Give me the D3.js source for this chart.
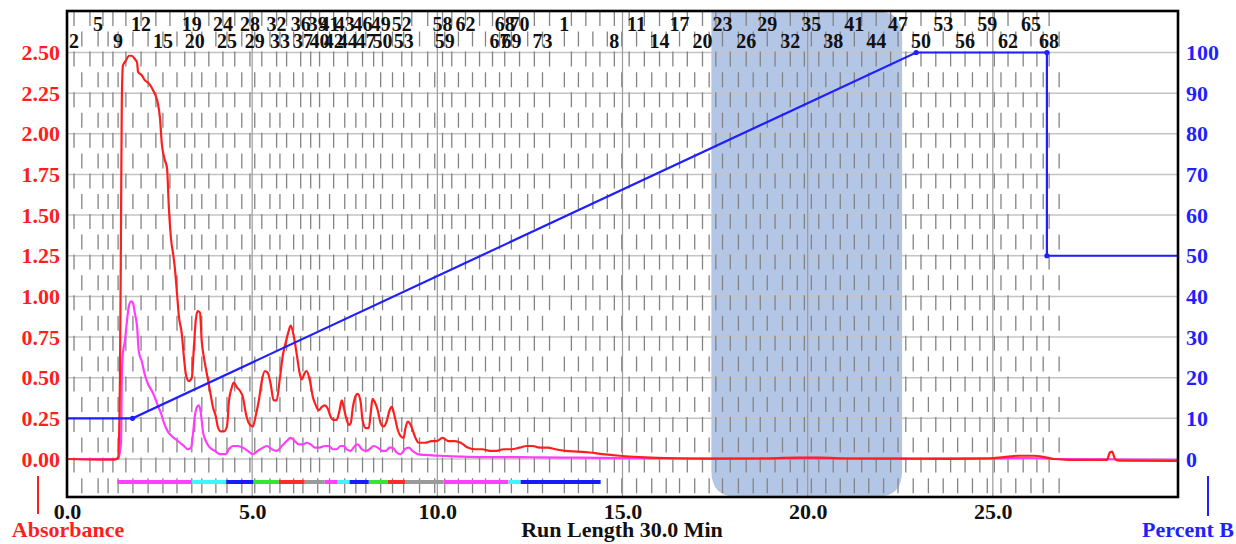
<!DOCTYPE html>
<html><head><meta charset="utf-8">
<script src="https://cdn.jsdelivr.net/npm/d3@7"></script>
<style>
html,body{margin:0;padding:0;background:#fff;}
svg text{font-family:"Liberation Serif","Times New Roman",serif;font-weight:bold;}
</style></head><body>
<svg id="c" width="1236" height="544"></svg>
<script>
// ---------- data ----------
const absTime = [0,0.89,1.29,1.38,1.43,1.46,1.48,1.51,1.59,1.67,
 1.75,1.83,1.89,1.92,2.02,2.10,2.21,2.32,2.40,2.45,
 2.51,2.56,2.64,2.70,2.75,2.81,2.86,2.91,2.97,3.02,
 3.10,3.16,3.21,3.29,3.37,3.43,3.48,3.53,3.59,3.64,
 3.70,3.78,3.86,3.94,4.02,4.07,4.15,4.24,4.32,4.37,
 4.45,4.50,4.59,4.67,4.75,4.83,4.91,5.02,5.10,5.18,
 5.26,5.34,5.42,5.50,5.58,5.66,5.75,5.83,5.91,5.99,
 6.04,6.12,6.20,6.29,6.34,6.42,6.47,6.56,6.64,6.72,
 6.80,6.88,6.96,7.04,7.12,7.20,7.28,7.36,7.42,7.47,
 7.53,7.61,7.66,7.72,7.80,7.85,7.93,7.98,8.07,8.15,
 8.20,8.25,8.31,8.39,8.47,8.55,8.63,8.71,8.77,8.85,
 8.93,9.01,9.09,9.14,9.20,9.28,9.33,9.41,9.50,9.66,
 9.85,9.98,10.14,10.30,10.47,10.63,10.82,11.01,11.22,11.41,
 11.60,11.79,12.00,12.22,12.41,12.57,12.76,12.98,13.19,13.46,
 13.78,14.11,14.46,14.92,15.46,16.13,16.81,17.61,18.69,19.77,
 20.31,21.12,22.47,23.82,24.90,25.30,25.71,26.11,26.38,26.65,
 27.06,28.08,28.16,28.22,28.30,28.41,29.97];
const absValue = [0,-0.004,-0.004,0.01,0.5,1.5,2.2,2.42,2.45,2.48,
 2.48,2.46,2.44,2.38,2.36,2.33,2.31,2.27,2.23,2.19,
 2.10,1.94,1.84,1.79,1.55,1.35,1.27,1.18,1.02,0.88,
 0.77,0.62,0.52,0.48,0.50,0.70,0.86,0.91,0.90,0.72,
 0.62,0.52,0.42,0.32,0.26,0.20,0.17,0.17,0.20,0.35,
 0.44,0.47,0.44,0.42,0.38,0.28,0.22,0.20,0.27,0.36,
 0.48,0.54,0.53,0.46,0.36,0.36,0.50,0.64,0.72,0.79,
 0.82,0.76,0.65,0.52,0.49,0.53,0.54,0.48,0.38,0.33,
 0.30,0.32,0.33,0.31,0.26,0.24,0.24,0.30,0.36,0.32,
 0.26,0.21,0.22,0.32,0.39,0.40,0.35,0.24,0.19,0.19,
 0.28,0.37,0.35,0.30,0.22,0.20,0.23,0.30,0.32,0.26,
 0.18,0.14,0.13,0.19,0.23,0.21,0.18,0.13,0.10,0.10,
 0.11,0.11,0.13,0.11,0.11,0.10,0.07,0.06,0.06,0.05,
 0.05,0.06,0.06,0.07,0.08,0.08,0.07,0.07,0.06,0.05,
 0.045,0.04,0.03,0.02,0.012,0.006,0.003,0.002,0.003,0.008,
 0.008,0.003,0.002,0.001,0.003,0.012,0.02,0.02,0.012,0.0,
 -0.005,-0.005,0.04,0.045,0.0,-0.01,-0.012];

const abs2Time = [0,1.38,1.46,1.48,1.51,1.56,1.62,1.67,1.73,1.78,
 1.83,1.89,1.94,2.02,2.10,2.19,2.29,2.37,2.45,2.54,
 2.62,2.72,2.83,2.94,3.05,3.16,3.26,3.35,3.40,3.45,
 3.51,3.56,3.61,3.67,3.75,3.86,3.99,4.13,4.29,4.37,
 4.48,4.61,4.75,4.88,5.02,5.15,5.29,5.40,5.53,5.66,
 5.80,5.93,6.04,6.15,6.26,6.37,6.47,6.58,6.69,6.82,
 6.96,7.07,7.18,7.28,7.39,7.47,7.55,7.66,7.77,7.85,
 7.96,8.07,8.17,8.28,8.39,8.50,8.61,8.71,8.79,8.90,
 9.01,9.12,9.23,9.33,9.47,9.66,10.06,10.60,11.14,11.68,
 12.22,12.76,13.84,14.92,16.54,18.42,21.12,25.17,25.98,26.79,29.97];
const abs2Value = [0,0,0.1,0.5,0.65,0.72,0.85,0.94,0.97,0.96,
 0.90,0.82,0.66,0.60,0.52,0.46,0.42,0.38,0.33,0.28,
 0.22,0.17,0.14,0.12,0.10,0.08,0.06,0.07,0.15,0.26,
 0.32,0.33,0.29,0.17,0.11,0.07,0.05,0.03,0.03,0.06,
 0.08,0.08,0.07,0.05,0.03,0.05,0.07,0.08,0.06,0.05,
 0.08,0.11,0.13,0.11,0.09,0.09,0.10,0.09,0.07,0.07,
 0.08,0.08,0.06,0.06,0.08,0.08,0.06,0.05,0.08,0.09,
 0.06,0.05,0.06,0.08,0.07,0.05,0.05,0.07,0.07,0.04,
 0.03,0.06,0.07,0.05,0.03,0.025,0.02,0.015,0.012,0.012,
 0.012,0.01,0.008,0.005,0.003,0.002,0.002,0.004,0.006,0.0,-0.005];

const gradTime = [0,1.77,22.93,26.46,26.46,30];
const gradPercent = [10,10,100,100,50,50];
const gradMarkerIdx = [1,2,3,4];

const rack1Times = [0.00,0.19,0.40,0.62,0.84,0.97,1.11,1.24,1.38,1.59,
 1.78,2.00,2.19,2.40,2.59,2.78,2.97,3.18,3.37,3.45,
 3.64,3.83,4.02,4.21,4.32,4.53,4.72,4.94,5.07,5.26,
 5.48,5.66,5.75,5.93,6.12,6.31,6.37,6.58,6.77,6.82,
 7.09,7.20,7.50,7.58,7.80,7.98,8.07,8.28,8.47,8.52,
 8.79,9.04,9.09,9.31,9.52,9.74,9.93,10.14,10.20,10.39,
 10.57,10.76,10.95,11.14,11.30,11.49,11.68,11.82,12.00,12.22,
 12.44,12.62,12.84];
const rack2Times = [13.43,13.62,13.81,14.01,14.20,14.39,14.59,14.78,14.98,15.18,
 15.38,15.59,15.79,16.00,16.18,16.36,16.54,16.75,16.95,17.16,
 17.34,17.52,17.70,17.91,18.13,18.34,18.53,18.72,18.91,19.12,
 19.32,19.53,19.72,19.91,20.10,20.30,20.49,20.69,20.88,21.07,
 21.26,21.46,21.65,21.85,22.05,22.24,22.44,22.65,22.85,23.06,
 23.26,23.46,23.66,23.86,24.05,24.25,24.45,24.65,24.85,25.04,
 25.22,25.41,25.62,25.82,26.03,26.19,26.36,26.52];
const rackEndTimes = [13.03, 26.79];

const rack1LabelsRow1 = [5,12,19,24,28,32,36,39,41,43,46,49,52,58,62,68,70];
const rack1LabelsRow2 = [2,9,15,20,25,29,33,37,40,42,44,47,50,53,59,67,69,73];
const rack2LabelsRow1 = [1,11,17,23,29,35,41,47,53,59,65];
const rack2LabelsRow2 = [8,14,20,26,32,38,44,50,56,62,68];

const barStart = [1.36,3.37,4.30,5.04,5.72,6.42,6.96,7.31,7.63,8.15,8.66,9.13,10.17,11.92,12.25];
const barEnd   = [3.37,4.30,5.04,5.72,6.42,6.96,7.31,7.63,8.15,8.66,9.13,10.17,11.92,12.25,14.41];
const barGroup = ["m","c","b","g","r","k","m","c","b","g","r","k","m","c","b"];

const shadeRange = [17.4, 22.55];

const absTicks = [0,0.25,0.5,0.75,1,1.25,1.5,1.75,2,2.25,2.5];
const pctTicks = [0,10,20,30,40,50,60,70,80,90,100];
const timeTicks = [0,5,10,15,20,25];

// ---------- styles ----------
const groupColor = {m:"#ff40ff", c:"#40f4ff", b:"#1a1aff", g:"#33e633", r:"#ff2a2a", k:"#9a9a9a"};
const RED = "#ff1e1e", BLUE = "#1f1fff", MAG = "#ff3cff";
const L = 67, R = 1178, T = 11, B = 497;
const FONT = '"Liberation Serif","Times New Roman",serif';

const svg = d3.select("#c");
const x = d3.scaleLinear().domain([0,30]).range([L,R]);
const yA = d3.scaleLinear().domain([0,2.5]).range([459,52.5]);
const yP = d3.scaleLinear().domain([0,100]).range([459,52.5]);

svg.append("defs").append("clipPath").attr("id","plot")
  .append("rect").attr("x",L).attr("y",T).attr("width",R-L).attr("height",B-T);

// shaded region
const sx0 = x(shadeRange[0]), sx1 = x(shadeRange[1]), r = 26;
const shadePath = `M${sx0},${T} L${sx1-r},${T} Q${sx1},${T} ${sx1},${T+r} L${sx1},${B-r} Q${sx1},${B} ${sx1-r},${B} L${sx0+r},${B} Q${sx0},${B} ${sx0},${B-r} Z`;
svg.append("path").attr("d",shadePath).attr("fill","#b4c6e6");

// horizontal grid
svg.append("g").selectAll("line").data(absTicks).join("line")
  .attr("x1",L).attr("x2",R).attr("y1",d=>yA(d)).attr("y2",d=>yA(d))
  .attr("stroke","#c4c4c4").attr("stroke-width",1.5);

// fraction dashed lines
const fracAll = rack1Times.concat(rackEndTimes.slice(0,1), rack2Times, rackEndTimes.slice(1));
svg.append("g").selectAll("line").data(fracAll).join("line")
  .attr("x1",d=>x(d)).attr("x2",d=>x(d)).attr("y1",T).attr("y2",B)
  .attr("stroke","#848484").attr("stroke-width",1.3)
  .attr("stroke-dasharray","15,25.6")
  .attr("stroke-dashoffset",(d,i)=> i%2 ? 0 : 20);

// vertical solid grid
svg.append("g").selectAll("line").data(timeTicks.slice(1)).join("line")
  .attr("x1",d=>x(d)).attr("x2",d=>x(d)).attr("y1",T).attr("y2",B)
  .attr("stroke","#9a9a9a").attr("stroke-width",1.2);

const plot = svg.append("g").attr("clip-path","url(#plot)");
const lineAbs = d3.line().x(d=>x(d[0])).y(d=>yA(d[1])).curve(d3.curveMonotoneX);
plot.append("path").datum(d3.zip(abs2Time,abs2Value)).attr("d",lineAbs)
  .attr("fill","none").attr("stroke",MAG).attr("stroke-width",2.2);
plot.append("path").datum(d3.zip(absTime,absValue)).attr("d",lineAbs)
  .attr("fill","none").attr("stroke",RED).attr("stroke-width",2.2);

const lineP = d3.line().x(d=>x(d[0])).y(d=>yP(d[1]));
const grad = d3.zip(gradTime,gradPercent);
plot.append("path").datum(grad).attr("d",lineP)
  .attr("fill","none").attr("stroke",BLUE).attr("stroke-width",2.2);
plot.append("g").selectAll("circle").data(gradMarkerIdx.map(i=>grad[i])).join("circle")
  .attr("cx",d=>x(d[0])).attr("cy",d=>yP(d[1])).attr("r",2.6).attr("fill",BLUE);

// colour bar
svg.append("g").selectAll("line").data(d3.zip(barStart,barEnd,barGroup)).join("line")
  .attr("x1",d=>x(d[0])).attr("x2",d=>x(d[1])).attr("y1",482).attr("y2",482)
  .attr("stroke",d=>groupColor[d[2]]).attr("stroke-width",4);

// frame
svg.append("rect").attr("x",L).attr("y",T).attr("width",R-L).attr("height",B-T)
  .attr("fill","none").attr("stroke","#000").attr("stroke-width",2.6);

// fraction labels
function fracLabels(nums, times, y){
  svg.append("g").selectAll("text").data(nums).join("text")
    .attr("x",d=>x(times[d-1])).attr("y",y).attr("text-anchor","middle")
    .attr("font-size",20).attr("fill","#111").text(d=>d);
}
fracLabels(rack1LabelsRow1, rack1Times, 31);
fracLabels(rack1LabelsRow2, rack1Times, 47.5);
fracLabels(rack2LabelsRow1, rack2Times, 31);
fracLabels(rack2LabelsRow2, rack2Times, 47.5);

// axes
function styleAxis(g, color){
  g.select(".domain").remove();
  g.selectAll("text").attr("fill",color).style("font-size","22px")
    .style("font-family",FONT).style("font-weight","bold");
}
svg.append("g").attr("transform","translate(60,0)")
  .call(d3.axisLeft(yA).tickValues(absTicks).tickFormat(d3.format(".2f")).tickSize(0).tickPadding(0))
  .call(g=>styleAxis(g,RED));
svg.append("g").attr("transform","translate(1186,0)")
  .call(d3.axisRight(yP).tickValues(pctTicks).tickFormat(d3.format("d")).tickSize(0).tickPadding(0))
  .call(g=>styleAxis(g,BLUE));
svg.append("g").attr("transform","translate(0,503)")
  .call(d3.axisBottom(x).tickValues(timeTicks).tickFormat(d3.format(".1f")).tickSize(0).tickPadding(0))
  .call(g=>styleAxis(g,"#111"));

// titles
svg.append("line").attr("x1",38).attr("x2",38).attr("y1",476).attr("y2",514).attr("stroke",RED).attr("stroke-width",2);
svg.append("text").attr("x",68).attr("y",537).attr("text-anchor","middle").attr("font-size",22).attr("fill",RED).text("Absorbance");
svg.append("line").attr("x1",1208).attr("x2",1208).attr("y1",476).attr("y2",516).attr("stroke",BLUE).attr("stroke-width",2);
svg.append("text").attr("x",1188).attr("y",537).attr("text-anchor","middle").attr("font-size",22).attr("fill",BLUE).text("Percent B");
svg.append("text").attr("x",622).attr("y",537).attr("text-anchor","middle").attr("font-size",22).attr("fill","#111").text("Run Length 30.0 Min");
</script>
</body></html>
